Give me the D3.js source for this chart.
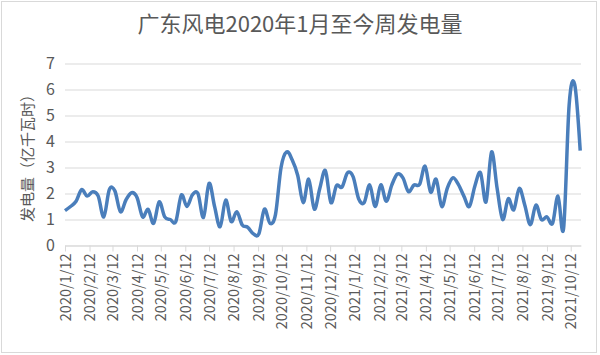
<!DOCTYPE html>
<html>
<head>
<meta charset="utf-8">
<script src="https://cdn.jsdelivr.net/npm/d3@7"></script>
<style>
  body { margin: 0; background: #fff; }
  text { font-family: "Noto Sans CJK SC", "Noto Sans", sans-serif; fill: #595959; }
</style>
</head>
<body>
<script>
const chartTitle = '广东风电2020年1月至今周发电量'
const yTitle = '发电量（亿千瓦时）'
const firstWeek = '2020/1/12'
const lastDay = '2021/10/25'
// weekly generation, 1e8 kWh, one value per week from firstWeek
const weeklyValues = [
  1.34, 1.5, 1.7, 2.15, 1.9, 2.07, 1.9, 1.1, 2.15, 2.1,
  1.3, 1.75, 2.03, 1.85, 1.1, 1.39, 0.85, 1.68, 1.1, 1.0,
  0.92, 1.94, 1.5, 1.95, 2.0, 1.08, 2.39, 1.5, 0.72, 1.75,
  0.92, 1.3, 0.79, 0.7, 0.45, 0.45, 1.4, 0.85, 1.2, 3.0,
  3.6, 3.3, 2.7, 1.65, 2.55, 1.4, 2.2, 2.88, 1.65, 2.3,
  2.25, 2.8, 2.65, 1.8, 1.65, 2.33, 1.5, 2.33, 1.7, 2.33,
  2.75, 2.6, 2.07, 2.33, 2.35, 3.05, 2.05, 2.55, 1.5, 2.2,
  2.6, 2.35, 1.9, 1.5, 2.3, 2.8, 1.68, 3.6, 2.2, 1.0,
  1.8, 1.37, 2.2, 1.55, 0.8, 1.55, 1.0, 1.1, 0.85, 1.9,
  0.66, 5.4, 6.2, 3.65
]
const tickLabels = [
  '2020/1/12', '2020/2/12', '2020/3/12', '2020/4/12', '2020/5/12', '2020/6/12',
  '2020/7/12', '2020/8/12', '2020/9/12', '2020/10/12', '2020/11/12', '2020/12/12',
  '2021/1/12', '2021/2/12', '2021/3/12', '2021/4/12', '2021/5/12', '2021/6/12',
  '2021/7/12', '2021/8/12', '2021/9/12', '2021/10/12'
]
const yTicks = [0, 1, 2, 3, 4, 5, 6, 7]

const W = 600, H = 355
const plot = {left: 65, right: 581, top: 63.5, bottom: 245.5}
const parse = d3.timeParse('%Y/%m/%d')
const fmt = d => `${d.getFullYear()}/${d.getMonth() + 1}/${d.getDate()}`

const start = parse(firstWeek)
const data = weeklyValues.map((v, i) => ({date: d3.timeDay.offset(start, 7 * i), value: v}))

const x = d3.scaleTime().domain([start, parse(lastDay)]).range([plot.left, plot.right])
const y = d3.scaleLinear().domain([0, 7]).range([plot.bottom, plot.top])

const svg = d3.select('body').append('svg')
  .attr('width', W).attr('height', H)

// outer border
svg.append('rect')
  .attr('x', 1.5).attr('y', 1.5).attr('width', 595).attr('height', 351)
  .attr('fill', '#fff').attr('stroke', '#d9d9d9')

// title
svg.append('text')
  .attr('x', 300).attr('y', 32)
  .attr('text-anchor', 'middle')
  .style('font-size', '22px')
  .text(chartTitle)

// gridlines + y labels
const yAxis = svg.append('g')
  .attr('transform', `translate(${plot.left},0)`)
  .call(d3.axisLeft(y).tickValues(yTicks).tickFormat(d3.format('d'))
    .tickSize(-(plot.right - plot.left)).tickPadding(10))
yAxis.select('.domain').remove()
yAxis.selectAll('line').attr('stroke', '#d9d9d9')
yAxis.selectAll('text').style('font-size', '16px').attr('fill', '#595959')

// x axis
const xAxis = svg.append('g')
  .attr('transform', `translate(0,${plot.bottom})`)
  .call(d3.axisBottom(x).tickValues(tickLabels.map(parse)).tickFormat(fmt).tickSize(6).tickSizeOuter(0))
xAxis.select('.domain').attr('stroke', '#d9d9d9')
xAxis.selectAll('line').attr('stroke', '#d9d9d9')
xAxis.selectAll('text')
  .style('font-size', '14.5px')
  .attr('fill', '#595959')
  .attr('text-anchor', 'end')
  .attr('transform', 'rotate(-90)')
  .attr('x', -8).attr('y', 0).attr('dy', '0.35em')

// y title
svg.append('text')
  .attr('transform', `translate(33,${(plot.top + plot.bottom) / 2}) rotate(-90)`)
  .attr('text-anchor', 'middle')
  .style('font-size', '15px')
  .text(yTitle)

// line
const line = d3.line()
  .x(d => x(d.date))
  .y(d => y(d.value))
  .curve(d3.curveCardinal.tension(0))

svg.append('path')
  .datum(data)
  .attr('fill', 'none')
  .attr('stroke', '#4a7ebb')
  .attr('stroke-width', 3.5)
  .attr('stroke-linejoin', 'round')
  .attr('d', line)
</script>
</body>
</html>
